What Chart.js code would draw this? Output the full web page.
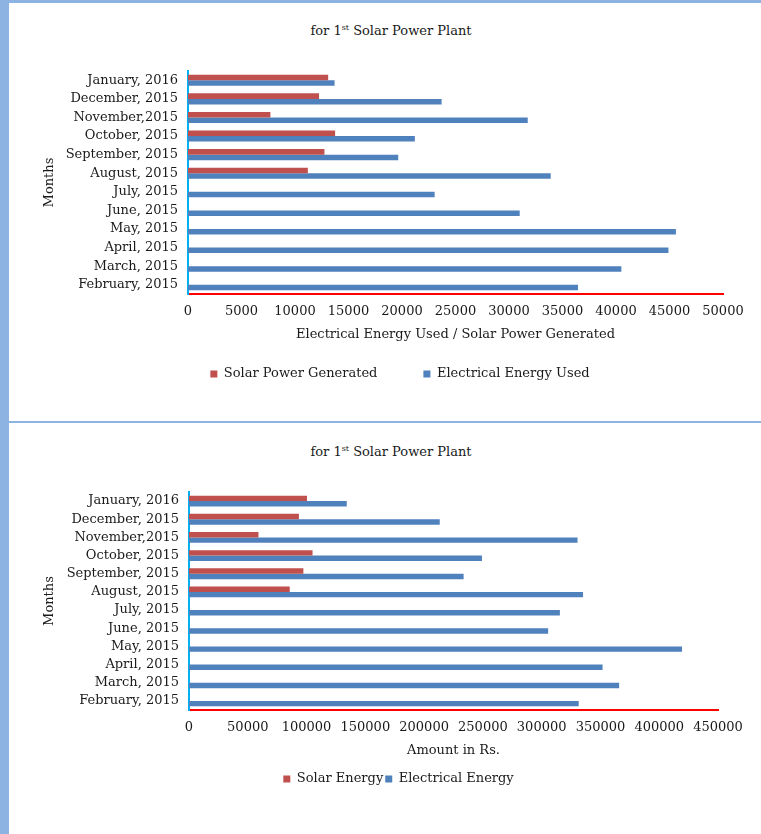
<!DOCTYPE html>
<html>
<head>
<meta charset="utf-8">
<script src="https://cdn.jsdelivr.net/npm/chart.js@4.4.1/dist/chart.umd.min.js"></script>
<style>
    body { margin: 0; width: 761px; height: 834px; overflow: hidden; background: #fff; position: relative; font-family: "DejaVu Serif", serif; color: #1a1a1a; }
    .strip-left { position: absolute; left: 0; top: 0; width: 9px; height: 834px; background: #8db3e2; }
    .strip-top { position: absolute; left: 0; top: 0; width: 761px; height: 3px; background: #8db3e2; }
    .rule { position: absolute; left: 0; top: 421px; width: 761px; height: 2px; background: #8db3e2; }
    .title { position: absolute; left: 191px; width: 400px; text-align: center; font-size: 13px; line-height: 16px; }
    .title sup { font-size: 8px; vertical-align: 5px; line-height: 0; }
    .box { position: absolute; left: 10px; width: 751px; }
</style>
</head>
<body>
<div class="strip-left"></div>
<div class="strip-top"></div>
<div class="rule"></div>

<div class="title" style="top: 23px;">for 1<sup>st</sup> Solar Power Plant</div>
<div class="box" style="top: 0px; height: 421px;"><canvas id="energy-bar"></canvas></div>

<div class="title" style="top: 444px;">for 1<sup>st</sup> Solar Power Plant</div>
<div class="box" style="top: 424px; height: 410px;"><canvas id="amount-bar"></canvas></div>

<script>
// Data (top row of the chart first)
const months = [
    "January, 2016", "December, 2015", "November,2015", "October, 2015",
    "September, 2015", "August, 2015", "July, 2015", "June, 2015",
    "May, 2015", "April, 2015", "March, 2015", "February, 2015"
];

const solar_generated = [13100, 12250, 7700, 13750, 12750, 11200, null, null, null, null, null, null];
const energy_used = [13700, 23700, 31750, 21200, 19650, 33900, 23050, 31000, 45600, 44900, 40500, 36450];

const solar_amount = [100400, 93500, 59100, 105100, 97300, 85700, null, null, null, null, null, null];
const electrical_amount = [134200, 213300, 330500, 249200, 233600, 335200, 315500, 305500, 419400, 351800, 365900, 331500];

const energy_axis = { max: 50000, step: 5000 };
const amount_axis = { max: 450000, step: 50000 };

const red = "#c0504d";
const blue = "#4f81bd";
const text_colour = "#1a1a1a";
const font = { family: "DejaVu Serif", size: 13 };

// nudge the legend sideways (the legend is centred on the plot, not the page)
const shift_legend = {
    id: "shift_legend",
    afterLayout(chart, args, opts) {
        chart.legend.left += opts.dx;
        chart.legend.right += opts.dx;
    }
};

function makeChart(canvas_id, s) {
    const ctx = document.getElementById(canvas_id).getContext("2d");
    return new Chart(ctx, {
        type: "bar",
        data: {
            labels: months,
            datasets: [{
                label: s.red_label,
                data: s.red_values,
                backgroundColor: red,
                borderWidth: 0,
                categoryPercentage: 0.6,
                barPercentage: 1.0
            },
            {
                label: s.blue_label,
                data: s.blue_values,
                backgroundColor: blue,
                borderWidth: 0,
                categoryPercentage: 0.6,
                barPercentage: 1.0
            }]
        },
        options: {
            indexAxis: "y",
            responsive: true,
            maintainAspectRatio: false,   // let the box size control the chart
            animation: false,
            layout: { padding: s.padding },
            plugins: {
                tooltip: { enabled: false },
                shift_legend: { dx: s.legend_dx },
                legend: {
                    position: "bottom",
                    labels: {
                        boxWidth: 7,
                        boxHeight: 7,
                        padding: s.legend_gap,
                        color: text_colour,
                        font: font
                    }
                }
            },
            scales: {
                x: {
                    min: 0,
                    max: s.axis.max,
                    grid: { display: false, drawTicks: false },
                    border: { display: true, color: "#ff0000", width: 2 },
                    ticks: {
                        stepSize: s.axis.step,
                        padding: s.tick_pad,
                        color: text_colour,
                        font: font,
                        maxRotation: 0,
                        autoSkip: false,
                        callback: (v) => String(v)
                    },
                    title: {
                        display: true,
                        text: s.x_title,
                        color: text_colour,
                        font: font,
                        padding: { top: 0, bottom: s.x_title_pad }
                    },
                    afterFit: (scale) => { scale.height = s.x_height; }
                },
                y: {
                    grid: { display: false, drawTicks: false },
                    border: { display: true, color: "#00b0f0", width: 2 },
                    ticks: {
                        padding: 10,
                        color: text_colour,
                        font: font,
                        autoSkip: false
                    },
                    title: {
                        display: true,
                        text: "Months",
                        color: text_colour,
                        font: font,
                        padding: { top: 4.2, bottom: 0 }
                    },
                    afterFit: (scale) => { scale.width = s.y_width; }
                }
            }
        },
        plugins: [shift_legend]
    });
}

makeChart("energy-bar", {
    red_label: "Solar Power Generated",
    blue_label: "Electrical Energy Used",
    red_values: solar_generated,
    blue_values: energy_used,
    axis: energy_axis,
    x_title: "Electrical Energy Used / Solar Power Generated",
    padding: { top: 71, left: 28, right: 38, bottom: 30.5 },
    legend_gap: 46,
    legend_dx: 19.5,
    tick_pad: 10,
    x_height: 27.5,
    x_title_pad: -21.3,
    y_width: 150
});

makeChart("amount-bar", {
    red_label: "Solar Energy",
    blue_label: "Electrical Energy",
    red_values: solar_amount,
    blue_values: electrical_amount,
    axis: amount_axis,
    x_title: "Amount in Rs.",
    padding: { top: 68, left: 28, right: 43, bottom: 38.5 },
    legend_gap: 2,
    legend_dx: 20.5,
    tick_pad: 10,
    x_height: 60.5,
    x_title_pad: 12.4,
    y_width: 151
});
</script>
</body>
</html>
